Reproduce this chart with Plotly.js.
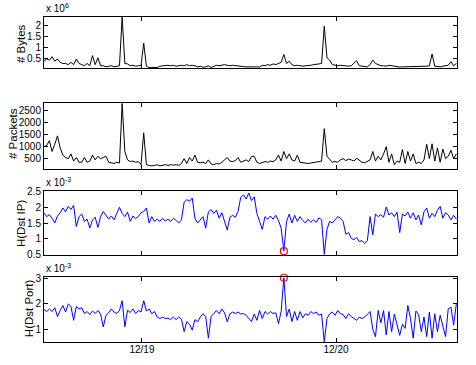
<!DOCTYPE html>
<html><head><meta charset="utf-8">
<script src="https://cdn.plot.ly/plotly-3.0.1.min.js"></script>
<style>html,body{margin:0;padding:0;background:#fff}#chart{width:476px;height:365px}</style>
</head><body><div id="chart"></div>
<script>
// Samples every 20 minutes starting 2003-12-18 11:53
const startTime = '2003-12-18T11:53:00';
const stepMinutes = 20;

// # Bytes (x 10^6)
const bytesMillions = [
0.4,0.5,0.45,0.6,0.4,0.5,0.35,0.3,0.3,0.25,
0.35,0.25,0.5,0.3,0.25,0.2,0.3,0.2,0.65,0.25,
0.55,0.2,0.2,0.15,0.18,0.2,0.15,0.18,0.2,2.35,
0.3,0.28,0.2,0.22,0.18,0.2,0.2,1.2,0.18,0.12,
0.12,0.15,0.12,0.18,0.2,0.2,0.22,0.2,0.22,0.18,
0.2,0.22,0.2,0.25,0.2,0.22,0.2,0.15,0.18,0.13,
0.15,0.2,0.12,0.18,0.22,0.2,0.22,0.25,0.22,0.2,
0.22,0.2,0.18,0.15,0.16,0.15,0.14,0.16,0.15,0.15,
0.14,0.22,0.2,0.25,0.22,0.28,0.25,0.3,0.35,0.7,
0.3,0.4,0.25,0.2,0.22,0.2,0.18,0.2,0.2,0.22,
0.25,0.25,0.28,0.3,1.95,0.55,0.45,0.25,0.22,0.2,
0.22,0.2,0.2,0.18,0.2,0.3,0.42,0.2,0.18,0.15,
0.15,0.25,0.45,0.3,0.25,0.2,0.2,0.18,0.22,0.2,
0.15,0.15,0.14,0.15,0.15,0.16,0.15,0.16,0.15,0.15,
0.16,0.18,0.18,0.2,0.72,0.18,0.15,0.15,0.18,0.2,
0.22,0.38,0.2,0.3];

// # Packets
const packets = [
1000,1050,1250,800,1100,1450,950,650,550,500,
700,400,550,350,350,550,350,400,650,450,
600,500,550,600,350,330,300,350,320,2800,
800,450,380,400,350,380,250,1580,250,220,
200,220,250,200,220,250,220,250,230,250,
220,300,500,300,550,400,650,350,330,350,
300,450,280,250,300,280,350,450,550,400,
380,420,550,350,400,450,380,600,600,350,
300,350,380,350,400,380,450,650,400,800,
500,700,450,400,650,350,330,320,300,320,
330,350,380,400,1750,600,450,350,380,350,
450,500,420,480,450,400,520,450,350,330,
400,450,800,400,600,450,700,1000,350,700,
250,400,350,880,300,800,400,700,300,350,
300,450,1100,500,1120,400,950,350,900,500,
600,850,500,700];

// H(Dst IP) (x 10^-3)
const hDstIP = [
1.81,1.7,1.76,1.65,1.5,1.72,1.82,1.97,1.85,2.02,
1.92,2.05,1.39,1.7,1.78,1.55,1.62,1.34,1.6,1.68,
1.36,1.7,1.86,1.75,1.62,1.72,1.6,1.8,1.99,1.8,
1.7,1.84,1.55,1.72,1.64,1.7,1.82,1.86,1.97,1.5,
1.7,1.55,1.62,1.55,1.65,1.56,1.62,1.55,1.65,1.58,
1.5,1.6,2.15,2.23,2.18,2.28,1.65,1.5,1.6,1.7,
1.34,1.85,1.92,1.8,1.9,1.65,1.82,1.55,1.28,1.68,
1.74,1.68,1.86,2.3,2.38,2.25,2.44,2.2,2.32,1.8,
1.55,1.3,1.7,1.62,1.72,1.62,1.74,1.58,1.34,0.62,
1.55,1.78,1.5,1.74,1.55,1.7,1.58,1.5,1.62,1.52,
1.6,1.52,1.66,1.6,0.52,1.3,1.55,1.5,1.6,1.7,
1.65,1.55,1.15,1.2,1.02,0.98,1.05,0.92,0.95,0.86,
0.95,1.7,1.13,1.78,1.7,1.76,1.68,2.0,1.75,1.82,
1.7,1.84,1.2,1.78,1.72,1.84,1.65,1.82,1.6,1.75,
1.44,1.85,1.97,1.65,1.8,1.7,1.9,2.02,1.65,1.82,
1.75,1.6,1.74,1.62];

// H(Dst Port) (x 10^-3)
const hDstPort = [
1.78,1.7,1.8,1.7,1.85,1.5,1.74,1.94,1.68,2.0,
1.9,1.35,1.9,1.8,1.85,1.62,1.7,1.58,1.72,1.62,
1.74,1.6,1.09,1.55,1.65,1.8,1.68,1.62,1.74,2.13,
1.09,1.75,1.66,1.8,1.62,1.74,1.68,2.13,1.72,1.8,
1.61,1.7,1.48,1.42,1.48,1.42,1.44,1.38,1.48,1.38,
1.48,1.4,0.9,1.3,1.2,0.96,1.38,1.29,1.48,1.61,
1.5,0.64,1.5,1.6,1.74,1.61,1.8,1.65,1.29,1.61,
1.68,1.62,1.68,1.6,1.62,1.55,1.4,1.3,1.6,1.35,
1.74,1.42,1.7,1.6,1.7,1.62,1.65,1.22,1.7,3.04,
1.5,1.8,1.3,1.7,1.35,1.7,1.45,1.61,1.55,1.7,
1.61,1.68,1.55,1.6,0.5,1.42,1.61,1.68,1.55,1.74,
1.61,1.58,1.42,1.61,1.5,1.42,1.35,1.48,1.42,1.48,
1.6,1.7,1.0,0.7,1.74,1.25,1.74,0.77,1.7,0.9,
1.6,1.16,0.75,1.2,1.03,1.94,1.42,0.64,1.72,1.58,
0.9,1.48,0.7,1.68,0.64,1.61,0.9,1.55,1.16,0.7,
1.81,1.87,1.16,2.0];

// Flagged anomaly (sample index and values)
const anomalyIndex = 89;
const anomalyIP = 0.62;
const anomalyPort = 3.04;

const tickDates = ['2003-12-19', '2003-12-20'];
const tickLabels = ['12/19', '12/20'];

function fmt(d){const p=n=>String(n).padStart(2,'0');return d.getFullYear()+'-'+p(d.getMonth()+1)+'-'+p(d.getDate())+' '+p(d.getHours())+':'+p(d.getMinutes())+':00';}
const t0 = new Date(startTime);
const times = bytesMillions.map((_,i)=>fmt(new Date(t0.getTime()+i*stepMinutes*60000)));
const anomalyTime = times[anomalyIndex];

const font = {family:'Arial, "Liberation Sans", sans-serif', size:10, color:'#000'};
const xRange = ['2003-12-18 11:53:00','2003-12-20 14:58:00'];

function xax(showLabels, anchor){
  const a = {type:'date', range:xRange, tickvals:tickDates, ticks:'inside', ticklen:4, tickcolor:'#000',
    showline:true, linecolor:'#000', linewidth:1, mirror:'allticks', showgrid:false, zeroline:false,
    tickfont:font, anchor:anchor, showticklabels:showLabels};
  if (showLabels) { a.ticktext = tickLabels; a.ticklabelstandoff = -2; }
  return a;
}
function yax(domain, range, tickvals){
  return {domain:domain, range:range, tickvals:tickvals, ticks:'inside', ticklen:4, tickcolor:'#000',
    showline:true, linecolor:'#000', linewidth:1, mirror:'allticks', showgrid:false, zeroline:false,
    tickfont:font};
}

const line = (x,y,xa,ya,color)=>({x:x,y:y,xaxis:xa,yaxis:ya,type:'scatter',mode:'lines',
  line:{color:color,width:1},hoverinfo:'skip',showlegend:false});
const circle = (y,ya)=>({x:[anomalyTime], y:[y], xaxis:ya.replace('y','x'), yaxis:ya, type:'scatter', mode:'markers',
  cliponaxis:false, marker:{symbol:'circle-open', size:7, color:'#ff0000', line:{width:1.2, color:'#ff0000'}},
  showlegend:false, hoverinfo:'skip'});

const data = [
  line(times, bytesMillions, 'x', 'y', '#000'),
  line(times, packets, 'x2', 'y2', '#000'),
  line(times, hDstIP, 'x3', 'y3', '#0000ff'),
  line(times, hDstPort, 'x4', 'y4', '#0000ff'),
  circle(anomalyIP, 'y3'),
  circle(anomalyPort, 'y4')
];

const ann = (text,x,y,opts)=>Object.assign({text:text,x:x,y:y,xref:'paper',yref:'paper',showarrow:false,font:font},opts||{});
const titleFont = {family:'Arial, "Liberation Sans", sans-serif', size:11.5, color:'#000'};

const layout = {
  width:476, height:365, margin:{l:44, r:19, t:17, b:23},
  paper_bgcolor:'#fff', plot_bgcolor:'#fff', showlegend:false,
  xaxis:xax(false,'y'), xaxis2:xax(false,'y2'), xaxis3:xax(false,'y3'), xaxis4:xax(true,'y4'),
  yaxis: yax([0.8431,1], [0.1,2.36], [0.5,1,1.5,2]),
  yaxis2: yax([0.5323,0.7354], [70,2820], [500,1000,1500,2000,2500]),
  yaxis3: yax([0.2677,0.4646], [0.5,2.5], [0.5,1,1.5,2,2.5]),
  yaxis4: yax([0,0.2], [0.49,3.07], [1,2,3]),
  annotations:[
    ann('x 10<sup>6</sup>', 0.0, 1.028, {xanchor:'left', yanchor:'middle'}),
    ann('x 10<sup>-3</sup>', 0.0, 0.491, {xanchor:'left', yanchor:'middle'}),
    ann('x 10<sup>-3</sup>', 0.0, 0.228, {xanchor:'left', yanchor:'middle'}),
    ann('# Bytes', -0.0557, 0.92, {textangle:-90, xanchor:'center', yanchor:'middle', font:titleFont}),
    ann('# Packets', -0.075, 0.64, {textangle:-90, xanchor:'center', yanchor:'middle', font:titleFont}),
    ann('H(Dst IP)', -0.0557, 0.366, {textangle:-90, xanchor:'center', yanchor:'middle', font:titleFont}),
    ann('H(Dst Port)', -0.036, 0.1046, {textangle:-90, xanchor:'center', yanchor:'middle', font:titleFont})
  ]
};

Plotly.newPlot('chart', data, layout, {staticPlot:true, displayModeBar:false});
</script></body></html>
